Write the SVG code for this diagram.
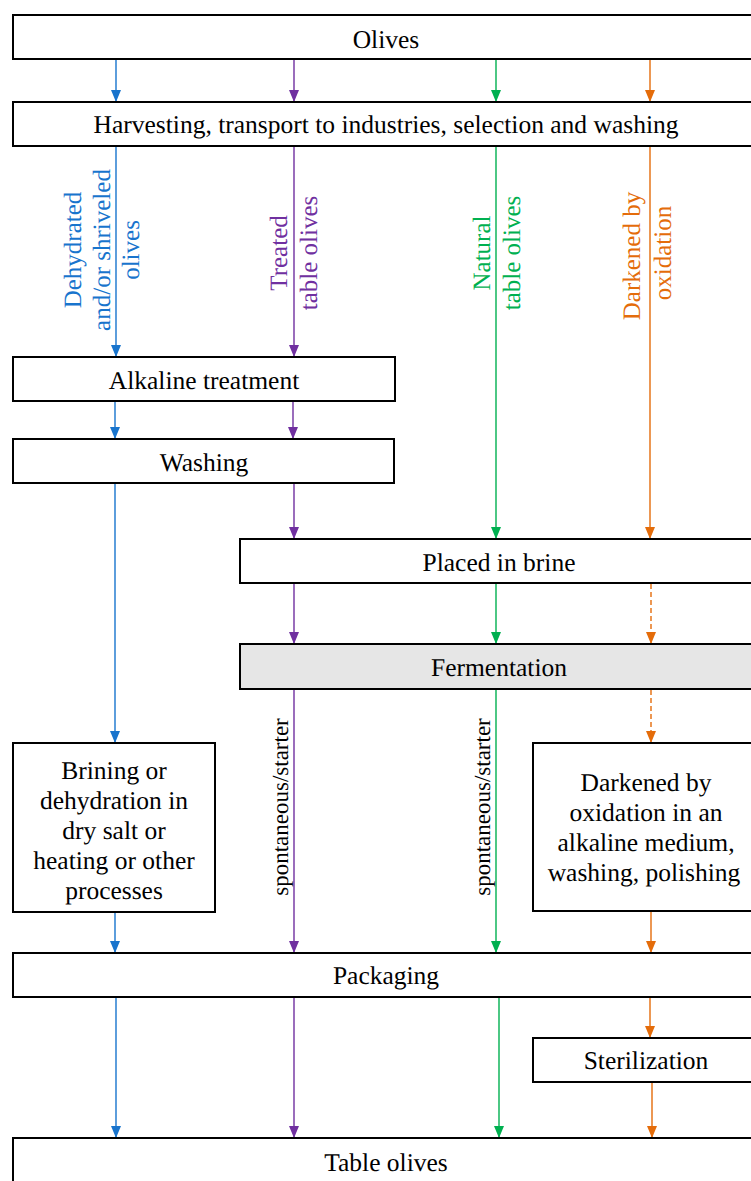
<svg xmlns="http://www.w3.org/2000/svg" width="751" height="1181" viewBox="0 0 751 1181">
<style>
.box{fill:#ffffff;stroke:#000000;stroke-width:2}
.gray{fill:#e6e6e6}
.t{font-size:25.5px;fill:#000000;text-anchor:middle}
.lbl{font-size:25px;text-anchor:middle}
.sp{font-size:23px;fill:#000000;text-anchor:middle}
.c{fill:none;stroke-width:1.4}
.b{stroke:#1874CD}
.p{stroke:#7030A0}
.g{stroke:#00B050}
.o{stroke:#E46C0A}
.d{stroke-dasharray:5 3}
</style>
<defs>
<marker id="ab" viewBox="0 0 12 10" refX="12" refY="5" markerWidth="12" markerHeight="10" markerUnits="userSpaceOnUse" orient="auto"><path d="M0,0 L12,5 L0,10 z" fill="#1874CD"/></marker>
<marker id="ap" viewBox="0 0 12 10" refX="12" refY="5" markerWidth="12" markerHeight="10" markerUnits="userSpaceOnUse" orient="auto"><path d="M0,0 L12,5 L0,10 z" fill="#7030A0"/></marker>
<marker id="ag" viewBox="0 0 12 10" refX="12" refY="5" markerWidth="12" markerHeight="10" markerUnits="userSpaceOnUse" orient="auto"><path d="M0,0 L12,5 L0,10 z" fill="#00B050"/></marker>
<marker id="ao" viewBox="0 0 12 10" refX="12" refY="5" markerWidth="12" markerHeight="10" markerUnits="userSpaceOnUse" orient="auto"><path d="M0,0 L12,5 L0,10 z" fill="#E46C0A"/></marker>
</defs>
<rect width="751" height="1181" fill="#ffffff"/>

<g id="connectors">
<line class="c b" x1="116" y1="60" x2="116" y2="102" marker-end="url(#ab)"/>
<line class="c p" x1="294" y1="60" x2="294" y2="102" marker-end="url(#ap)"/>
<line class="c g" x1="496" y1="57" x2="496" y2="102" marker-end="url(#ag)"/>
<line class="c o" x1="650" y1="60" x2="650" y2="102" marker-end="url(#ao)"/>

<line class="c b" x1="116" y1="147" x2="116" y2="357" marker-end="url(#ab)"/>
<line class="c p" x1="294" y1="147" x2="294" y2="357" marker-end="url(#ap)"/>
<line class="c g" x1="496" y1="147" x2="496" y2="539" marker-end="url(#ag)"/>
<line class="c o" x1="650" y1="147" x2="650" y2="539" marker-end="url(#ao)"/>

<line class="c b" x1="115" y1="402" x2="115" y2="439" marker-end="url(#ab)"/>
<line class="c p" x1="293" y1="402" x2="293" y2="439" marker-end="url(#ap)"/>

<line class="c b" x1="115" y1="484" x2="115" y2="743" marker-end="url(#ab)"/>
<line class="c p" x1="294" y1="484" x2="294" y2="539" marker-end="url(#ap)"/>

<line class="c p" x1="294" y1="584" x2="294" y2="644" marker-end="url(#ap)"/>
<line class="c g" x1="496" y1="584" x2="496" y2="644" marker-end="url(#ag)"/>
<line class="c o d" x1="651" y1="584" x2="651" y2="644" marker-end="url(#ao)"/>

<line class="c p" x1="294" y1="690" x2="294" y2="953" marker-end="url(#ap)"/>
<line class="c g" x1="496" y1="690" x2="496" y2="953" marker-end="url(#ag)"/>
<line class="c o d" x1="651" y1="690" x2="651" y2="743" marker-end="url(#ao)"/>

<line class="c b" x1="115" y1="913" x2="115" y2="953" marker-end="url(#ab)"/>
<line class="c o" x1="651" y1="912" x2="651" y2="953" marker-end="url(#ao)"/>

<line class="c b" x1="116" y1="998" x2="116" y2="1138" marker-end="url(#ab)"/>
<line class="c p" x1="294" y1="998" x2="294" y2="1138" marker-end="url(#ap)"/>
<line class="c g" x1="499" y1="998" x2="499" y2="1138" marker-end="url(#ag)"/>
<line class="c o" x1="650" y1="998" x2="650" y2="1038" marker-end="url(#ao)"/>
<line class="c o" x1="652" y1="1083" x2="652" y2="1138" marker-end="url(#ao)"/>
</g>

<g font-family="Liberation Serif, serif" text-rendering="geometricPrecision">
<g id="labels">
<g fill="#1874CD">
<text class="lbl" transform="translate(81,250) rotate(-90)">Dehydrated</text>
<text class="lbl" transform="translate(110,250) rotate(-90)">and/or shriveled</text>
<text class="lbl" transform="translate(139,250) rotate(-90)">olives</text>
</g>
<g fill="#7030A0">
<text class="lbl" transform="translate(287,253) rotate(-90)">Treated</text>
<text class="lbl" transform="translate(317,253) rotate(-90)">table olives</text>
</g>
<g fill="#00B050">
<text class="lbl" transform="translate(490,253) rotate(-90)">Natural</text>
<text class="lbl" transform="translate(520,253) rotate(-90)">table olives</text>
</g>
<g fill="#E46C0A">
<text class="lbl" transform="translate(640,256) rotate(-90)">Darkened by</text>
<text class="lbl" transform="translate(671,253) rotate(-90)">oxidation</text>
</g>
<text class="sp" transform="translate(288,807) rotate(-90)">spontaneous/starter</text>
<text class="sp" transform="translate(490,807) rotate(-90)">spontaneous/starter</text>
</g>

<g id="olives"><rect class="box" x="13" y="15" width="760" height="44"/><text class="t" x="386" y="48">Olives</text></g>
<g id="harvesting"><rect class="box" x="13" y="102" width="760" height="44"/><text class="t" x="386" y="133">Harvesting, transport to industries, selection and washing</text></g>
<g id="alkaline"><rect class="box" x="13" y="357" width="382" height="44"/><text class="t" x="204" y="389">Alkaline treatment</text></g>
<g id="washing"><rect class="box" x="13" y="439" width="381" height="44"/><text class="t" x="204" y="471">Washing</text></g>
<g id="brine"><rect class="box" x="240" y="539" width="520" height="44"/><text class="t" x="499" y="571">Placed in brine</text></g>
<g id="fermentation"><rect class="box gray" x="240" y="644" width="520" height="45"/><text class="t" x="499" y="676">Fermentation</text></g>
<g id="brining"><rect class="box" x="13" y="743" width="202" height="169"/>
<text class="t" x="114" y="779">Brining or</text>
<text class="t" x="114" y="809">dehydration in</text>
<text class="t" x="114" y="839">dry salt or</text>
<text class="t" x="114" y="869">heating or other</text>
<text class="t" x="114" y="899">processes</text></g>
<g id="darkened"><rect class="box" x="533" y="743" width="230" height="168"/>
<text class="t" x="646" y="791">Darkened by</text>
<text class="t" x="646" y="821">oxidation in an</text>
<text class="t" x="646" y="851">alkaline medium,</text>
<text class="t" x="644" y="881">washing, polishing</text></g>
<g id="packaging"><rect class="box" x="13" y="953" width="760" height="44"/><text class="t" x="386" y="984">Packaging</text></g>
<g id="sterilization"><rect class="box" x="533" y="1038" width="230" height="44"/><text class="t" x="646" y="1069">Sterilization</text></g>
<g id="table-olives"><rect class="box" x="13" y="1138" width="760" height="60"/><text class="t" x="386" y="1171">Table olives</text></g>
</g>
</svg>
